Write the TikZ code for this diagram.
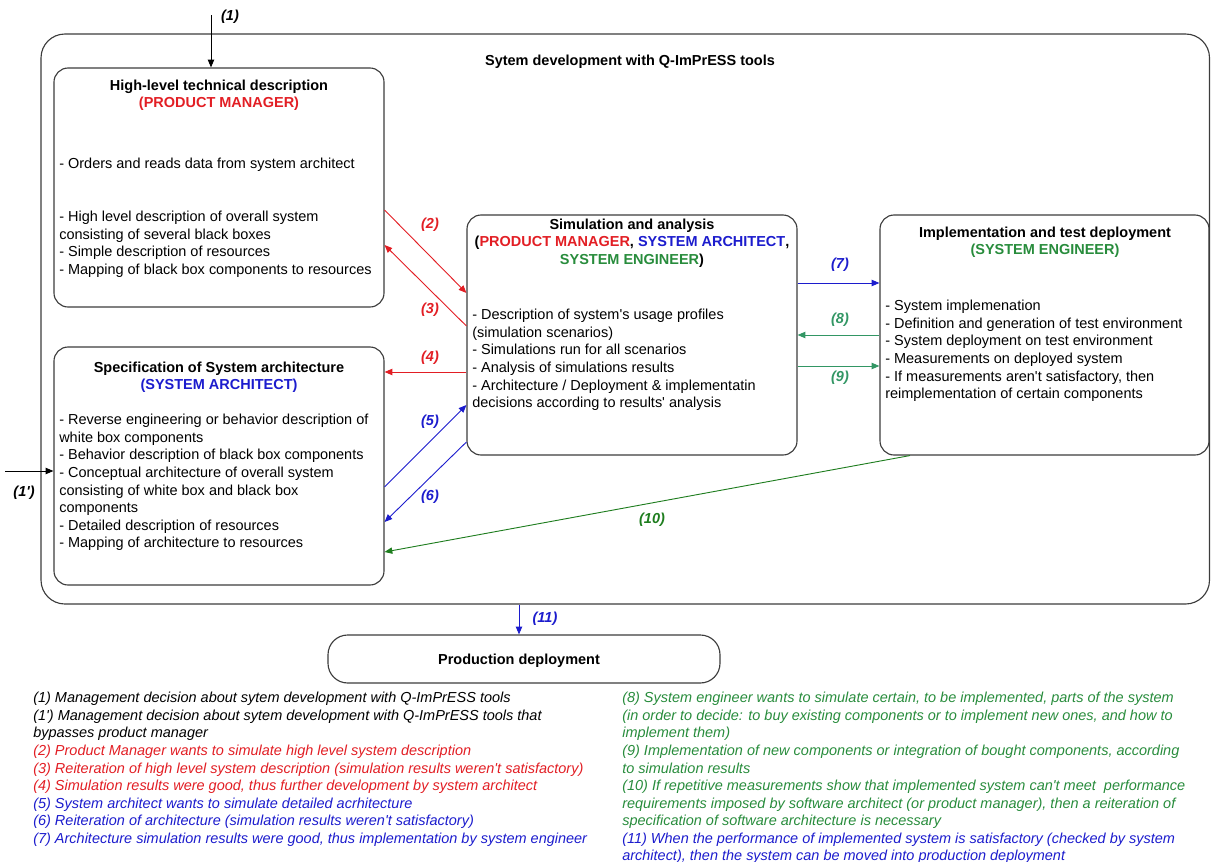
\documentclass[tikz,border=0pt]{standalone}
\usepackage{fontspec}
\setmainfont{Liberation Sans}
\usetikzlibrary{arrows.meta, fit}

\definecolor{pmred}{RGB}{226,30,36}
\definecolor{sablue}{RGB}{28,28,205}
\definecolor{segreen}{RGB}{40,140,60}
\definecolor{tealgreen}{RGB}{50,150,100}
\definecolor{darkgreen}{RGB}{30,125,30}
\definecolor{framegray}{RGB}{60,60,60}
\newcommand{\ap}{\textquotesingle}

\tikzset{
  box/.style={draw=framegray, line width=0.8pt, rounded corners=10pt, inner sep=0pt},
  arr/.style={-{Triangle[length=5.5pt,width=4.5pt]}, line width=0.65pt},
  txt/.style={font=\fontsize{10.3}{12.5}\selectfont, align=left, anchor=north west, inner sep=0pt},
  head/.style={font=\fontsize{10.3}{12.5}\selectfont\bfseries, align=center, anchor=north, inner sep=0pt},
  lbl/.style={font=\fontsize{10.3}{12.5}\selectfont\bfseries\itshape, inner sep=0pt},
  legend/.style={font=\fontsize{10.3}{12.5}\selectfont\itshape, align=left, anchor=north west, inner sep=0pt}
}

\begin{document}
\begin{tikzpicture}[x=0.025cm, y=-0.025cm]
\useasboundingbox (0,0) rectangle (1211,862);
% Outer frame
\node[box, rounded corners=17pt, fit={(41,34) (1209.5,604)}] (frame) {};
\node[head] (frametitle) at (630,54.5) {Sytem development with Q-ImPrESS tools};
% Boxes
\node[box, fit={(54,68) (384,307)}] (hl) {};
\node[box, fit={(54,347) (384,585)}] (spec) {};
\node[box, fit={(467,215) (797,455)}] (sim) {};
\node[box, fit={(880,215) (1209,455)}] (impl) {};
\node[box, rounded corners=14pt, fit={(328,635) (720,683)}] (prod) {};
% Titles
\node[head] (hltitle) at (219,79.5) {High-level technical description\\\textcolor{pmred}{(PRODUCT MANAGER)}};
\node[head] (spectitle) at (219,361.5) {Specification of System architecture\\\textcolor{sablue}{(SYSTEM ARCHITECT)}};
\node[head] (simtitle) at (632,218.5) {Simulation and analysis\\(\textcolor{pmred}{PRODUCT MANAGER}, \textcolor{sablue}{SYSTEM ARCHITECT},\\\textcolor{segreen}{SYSTEM ENGINEER})};
\node[head] (impltitle) at (1045,226.5) {Implementation and test deployment\\\textcolor{segreen}{(SYSTEM ENGINEER)}};
\node[head] (prodtitle) at (519,653.5) {Production deployment};
% Contents
\node[txt] (hlorders) at (59,158) {- Orders and reads data from system architect};
\node[txt] (hlbody) at (59,211) {- High level description of overall system\\consisting of several black boxes\\- Simple description of resources\\- Mapping of black box components to resources};
\node[txt] (specbody) at (59,414) {- Reverse engineering or behavior description of\\white box components\\- Behavior description of black box components\\- Conceptual architecture of overall system\\consisting of white box and black box\\components\\- Detailed description of resources\\- Mapping of architecture to resources};
\node[txt] (simbody) at (472,309) {- Description of system\ap s usage profiles\\(simulation scenarios)\\- Simulations run for all scenarios\\- Analysis of simulations results\\- Architecture / Deployment \& implementatin\\decisions according to results\ap\ analysis};
\node[txt] (implbody) at (885,300) {- System implemenation\\- Definition and generation of test environment\\- System deployment on test environment\\- Measurements on deployed system\\- If measurements aren\ap t satisfactory, then\\reimplementation of certain components};
% Entry arrows
\coordinate (in1) at (211,15);
\coordinate (in1b) at (5,471);
\draw[arr] (in1) -- (in1 |- hl.north);
\draw[arr] (in1b) -- (in1b -| spec.west);
\node[lbl] (l1) at (230,17) {(1)};
\node[lbl] (l1b) at (24,493) {(1\ap)};
% Flow between boxes
\draw[arr, pmred] (hl.east |- 0,210) -- (sim.west |- 0,293);
\draw[arr, pmred] (sim.west |- 0,326) -- (hl.east |- 0,245);
\draw[arr, pmred] (sim.west |- 0,372) -- (spec.east |- 0,372);
\draw[arr, sablue] (spec.east |- 0,487) -- (sim.west |- 0,405);
\draw[arr, sablue] (sim.west |- 0,442) -- (spec.east |- 0,522);
\draw[arr, sablue] (sim.east |- 0,283) -- (impl.west |- 0,283);
\draw[arr, tealgreen] (impl.west |- 0,335) -- (sim.east |- 0,335);
\draw[arr, tealgreen] (sim.east |- 0,366) -- (impl.west |- 0,366);
\draw[arr, darkgreen] (impl.south -| 910,0) -- (spec.east |- 0,552);
\draw[arr, sablue] (frame.south -| 519,0) -- (prod.north -| 519,0);
\node[lbl, pmred] (l2) at (430,225) {(2)};
\node[lbl, pmred] (l3) at (430,310) {(3)};
\node[lbl, pmred] (l4) at (430,358) {(4)};
\node[lbl, sablue] (l5) at (430,422) {(5)};
\node[lbl, sablue] (l6) at (430,497) {(6)};
\node[lbl, sablue] (l7) at (840,265) {(7)};
\node[lbl, tealgreen] (l8) at (840,320) {(8)};
\node[lbl, tealgreen] (l9) at (840,378) {(9)};
\node[lbl, darkgreen] (l10) at (652,520) {(10)};
\node[lbl, sablue] (l11) at (545,619) {(11)};
% Legend
\node[legend] (legleft) at (33,692) {(1) Management decision about sytem development with Q-ImPrESS tools\\(1\ap) Management decision about sytem development with Q-ImPrESS tools that\\bypasses product manager\\
\textcolor{pmred}{(2) Product Manager wants to simulate high level system description}\\
\textcolor{pmred}{(3) Reiteration of high level system description (simulation results weren\ap t satisfactory)}\\
\textcolor{pmred}{(4) Simulation results were good, thus further development by system architect}\\
\textcolor{sablue}{(5) System architect wants to simulate detailed acrhitecture}\\
\textcolor{sablue}{(6) Reiteration of architecture (simulation results weren\ap t satisfactory)}\\
\textcolor{sablue}{(7) Architecture simulation results were good, thus implementation by system engineer}};
\node[legend] (legright) at (622,692) {\textcolor{segreen}{(8) System engineer wants to simulate certain, to be implemented, parts of the system}\\
\textcolor{segreen}{(in order to decide: to buy existing components or to implement new ones, and how to}\\
\textcolor{segreen}{implement them)}\\
\textcolor{segreen}{(9) Implementation of new components or integration of bought components, according}\\
\textcolor{segreen}{to simulation results}\\
\textcolor{segreen}{(10) If repetitive measurements show that implemented system can\ap t meet\ \ performance}\\
\textcolor{segreen}{requirements imposed by software architect (or product manager), then a reiteration of}\\
\textcolor{segreen}{specification of software architecture is necessary}\\
\textcolor{sablue}{(11) When the performance of implemented system is satisfactory (checked by system}\\
\textcolor{sablue}{architect), then the system can be moved into production deployment}};
\end{tikzpicture}
\end{document}
